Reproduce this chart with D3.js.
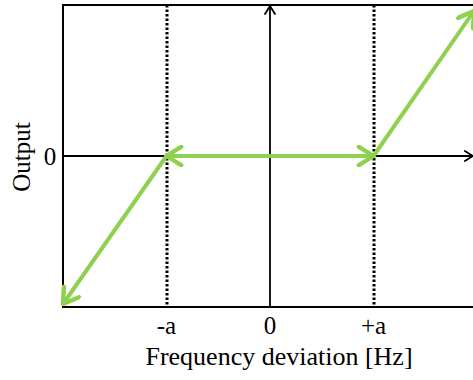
<!DOCTYPE html>
<html>
<head>
<meta charset="utf-8">
<script src="https://cdn.jsdelivr.net/npm/d3@7"></script>
<style>
  body { margin: 0; background: #fff; }
  text { font-family: "Liberation Serif", "Times New Roman", serif; fill: #000; }
</style>
</head>
<body>
<svg id="canvas" width="473" height="380"></svg>
<script>
// piecewise response: dead band between -a and +a (a = 1)
const X_VALUES = [-2, -1, 1, 1.97];
const Y_VALUES = [-1.47, 0, 0, 1.44];
const X_TICKS = [-1, 0, 1];
const X_TICK_LABELS = ["-a", "0", "+a"];
const Y_TICKS = [0];
const Y_TICK_LABELS = ["0"];

const GREEN = "#8fd14f";

const svg = d3.select("#canvas");

const scaleX = d3.scaleLinear()
    .domain([-2, 2])
    .range([63, 477]);

const scaleY = d3.scaleLinear()
    .domain([-1.5, 1.5])
    .range([307, 5]);

const defs = svg.append("defs");

function chevron(id, color, size, width) {
    defs.append("marker")
        .attr("id", id)
        .attr("viewBox", "-10 -6 12 12")
        .attr("refX", 0)
        .attr("refY", 0)
        .attr("markerUnits", "userSpaceOnUse")
        .attr("markerWidth", size)
        .attr("markerHeight", size)
        .attr("orient", "auto-start-reverse")
        .append("path")
        .attr("d", "M-8,-5 L0,0 L-8,5")
        .attr("fill", "none")
        .attr("stroke", color)
        .attr("stroke-width", width)
        .attr("stroke-linecap", "round")
        .attr("stroke-linejoin", "round");
}
chevron("blackArrow", "#000", 12, 1.8);
chevron("greenArrow", GREEN, 22, 2.4);

// frame
svg.append("rect")
    .attr("x", scaleX(-2))
    .attr("y", scaleY(1.5))
    .attr("width", scaleX(2) - scaleX(-2))
    .attr("height", scaleY(-1.5) - scaleY(1.5))
    .attr("fill", "none")
    .attr("stroke", "#000")
    .attr("stroke-width", 2);

// dotted guides at -a and +a
svg.selectAll(".guide")
    .data([X_TICKS[0], X_TICKS[2]])
    .enter()
    .append("line")
    .attr("class", "guide")
    .attr("x1", d => Math.round(scaleX(d)))
    .attr("x2", d => Math.round(scaleX(d)))
    .attr("y1", scaleY(1.5))
    .attr("y2", scaleY(-1.5))
    .attr("stroke", "#000")
    .attr("stroke-width", 3)
    .attr("stroke-dasharray", "2.5,2");

// axes through origin
svg.append("line")
    .attr("x1", scaleX(-2))
    .attr("x2", scaleX(1.96))
    .attr("y1", scaleY(0))
    .attr("y2", scaleY(0))
    .attr("stroke", "#000")
    .attr("stroke-width", 1.8)
    .attr("marker-end", "url(#blackArrow)");

svg.append("line")
    .attr("x1", scaleX(0))
    .attr("x2", scaleX(0))
    .attr("y1", scaleY(-1.5))
    .attr("y2", scaleY(1.49))
    .attr("stroke", "#000")
    .attr("stroke-width", 1.8)
    .attr("marker-end", "url(#blackArrow)");

// green response
const pts = X_VALUES.map((x, i) => [scaleX(x), scaleY(Y_VALUES[i])]);

const segments = [
    [pts[1], pts[0]],
    [pts[1], pts[2]],
    [pts[2], pts[3]]
];

svg.selectAll(".resp")
    .data(segments)
    .enter()
    .append("path")
    .attr("class", "resp")
    .attr("d", d => d3.line()(d))
    .attr("fill", "none")
    .attr("stroke", GREEN)
    .attr("stroke-width", 4)
    .attr("stroke-linecap", "round")
    .attr("marker-end", "url(#greenArrow)")
    .attr("marker-start", (d, i) => i === 1 ? "url(#greenArrow)" : null);

// tick labels
svg.selectAll(".xtick")
    .data(X_TICKS)
    .enter()
    .append("text")
    .attr("class", "xtick")
    .attr("x", d => scaleX(d))
    .attr("y", 334)
    .attr("text-anchor", "middle")
    .attr("font-size", 25)
    .text((d, i) => X_TICK_LABELS[i]);

svg.selectAll(".ytick")
    .data(Y_TICKS)
    .enter()
    .append("text")
    .attr("class", "ytick")
    .attr("x", 50)
    .attr("y", d => scaleY(d))
    .attr("dy", "0.35em")
    .attr("text-anchor", "middle")
    .attr("font-size", 25)
    .text((d, i) => Y_TICK_LABELS[i]);

svg.append("text")
    .attr("x", 279)
    .attr("y", 365)
    .attr("text-anchor", "middle")
    .attr("font-size", 26)
    .text("Frequency deviation [Hz]");

svg.append("text")
    .attr("transform", "translate(30,157) rotate(-90)")
    .attr("text-anchor", "middle")
    .attr("font-size", 25)
    .text("Output");
</script>
</body>
</html>
